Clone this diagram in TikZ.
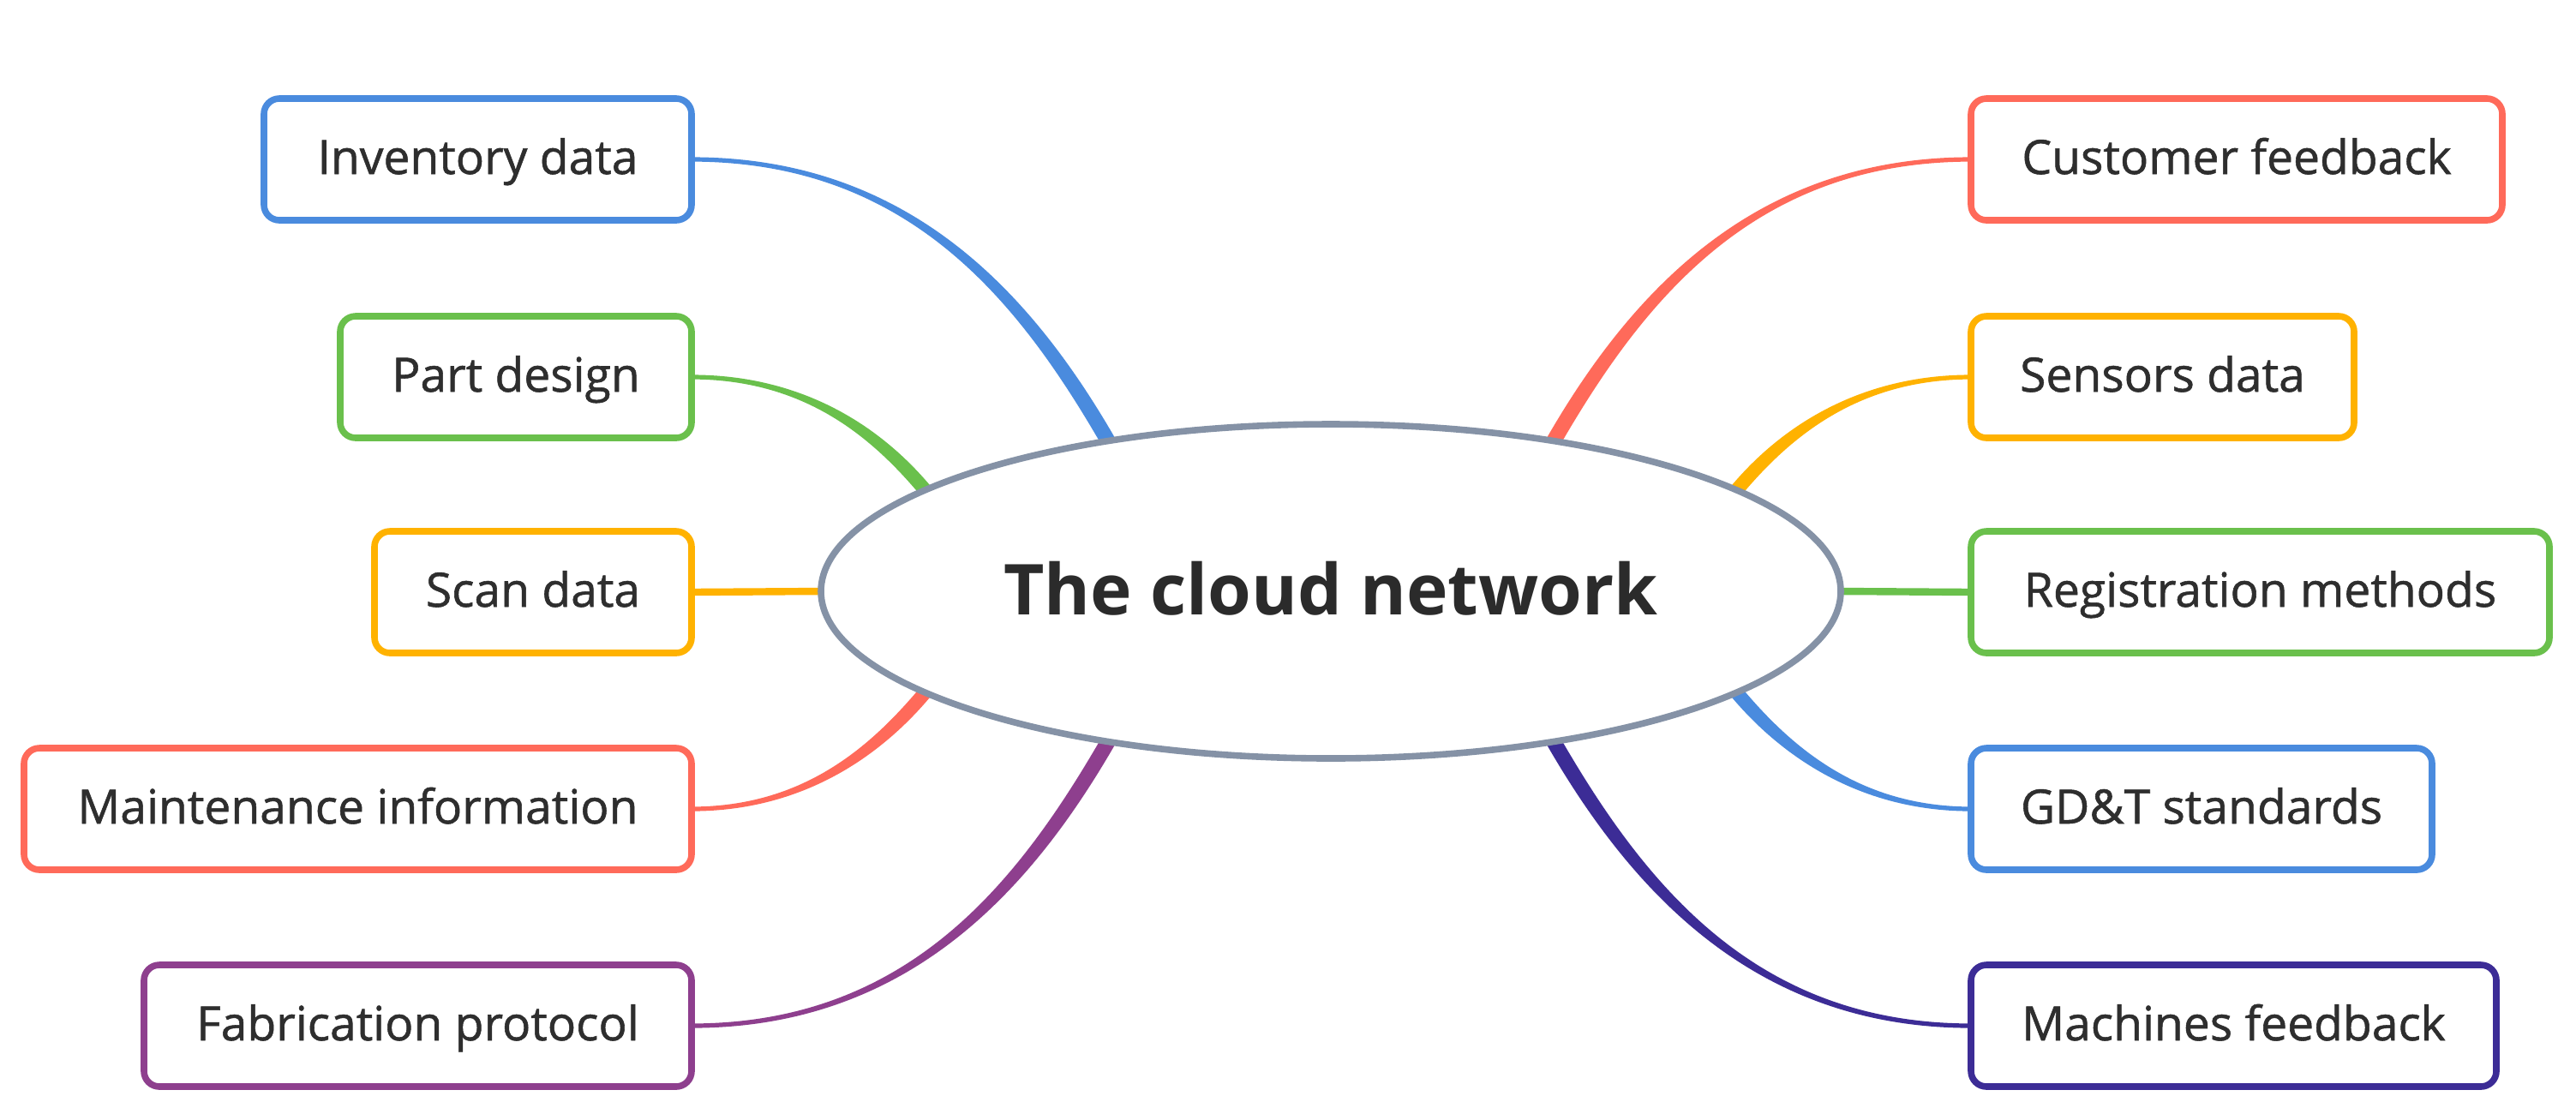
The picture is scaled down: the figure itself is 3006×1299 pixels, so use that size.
\documentclass[tikz,border=0pt]{standalone}
\usepackage{fontspec}
\setmainfont{Open Sans}
\newfontfamily\leaffont[FakeBold=1]{Open Sans}
\usetikzlibrary{calc,shapes.geometric}
\definecolor{cblue}{HTML}{4A8BDE}
\definecolor{cgreen}{HTML}{6AC04C}
\definecolor{corange}{HTML}{FFB200}
\definecolor{ccoral}{HTML}{FF6A5A}
\definecolor{cpurple}{HTML}{8E3F8E}
\definecolor{cindigo}{HTML}{3C2C96}
\definecolor{hubgray}{HTML}{8592A6}
\definecolor{textgray}{HTML}{2E2E2E}
\definecolor{titlegray}{HTML}{2B2B2B}
\pgfdeclarelayer{bg}
\pgfsetlayers{bg,main}
\newcommand{\taperlink}[7]{%
  \coordinate (tpSa) at ($(#1)!#5!90:(#2)$);
  \coordinate (tpSb) at ($(#1)!#5!-90:(#2)$);
  \coordinate (tpEa) at ($(#4)!#6!-90:(#3)$);
  \coordinate (tpEb) at ($(#4)!#6!90:(#3)$);
  \fill[#7] (tpSa) .. controls ($(#2)+(tpSa)-(#1)$) and ($(#3)+(tpEa)-(#4)$) .. (tpEa)
     -- (tpEb) .. controls ($(#3)+(tpEb)-(#4)$) and ($(#2)+(tpSb)-(#1)$) .. (tpSb) -- cycle;
}
\tikzset{
  leaf/.style={draw, line width=1.9pt, rounded corners=4.5pt, fill=white,
    minimum height=35.5pt, inner sep=0pt, outer sep=0pt,
    text height=11.5pt, text depth=3pt,
    font=\leaffont\fontsize{13.8}{16}\selectfont, text=textgray},
  leftleaf/.style={leaf, anchor=east},
  rightleaf/.style={leaf, anchor=west},
  hub/.style={ellipse, draw=hubgray, line width=1.9pt, fill=white,
    minimum width=297.5pt, minimum height=97.5pt, inner sep=0pt, outer sep=0pt,
    text height=18pt, text depth=4.5pt,
    font=\bfseries\fontsize{20.5}{24}\selectfont, text=titlegray},
  straightlink/.style={line width=2.1pt}
}
\begin{document}
\begin{tikzpicture}[x=0.25pt,y=-0.25pt]
\begin{pgfonlayer}{bg}
  \fill[white] (0,0) rectangle (3006,1299);
\end{pgfonlayer}
\useasboundingbox (0,0) rectangle (3006,1299);

\node[hub] (c) at (1553,690) {The cloud network};

\node[leftleaf, draw=cblue,   minimum width=124.75pt] (inv)  at (807,186)  {Inventory data};
\node[leftleaf, draw=cgreen,  minimum width=102.5pt]  (part) at (807,440)  {Part design};
\node[leftleaf, draw=corange, minimum width=92.5pt]   (scan) at (807,691)  {Scan data};
\node[leftleaf, draw=ccoral,  minimum width=194.75pt] (main) at (807,944)  {Maintenance information};
\node[leftleaf, draw=cpurple, minimum width=159.75pt] (fab)  at (807,1197) {Fabrication protocol};

\node[rightleaf, draw=ccoral,  minimum width=155pt]    (cust) at (2300,186)  {Customer feedback};
\node[rightleaf, draw=corange, minimum width=111.75pt] (sens) at (2300,440)  {Sensors data};
\node[rightleaf, draw=cgreen,  minimum width=168.75pt] (reg)  at (2300,691)  {Registration methods};
\node[rightleaf, draw=cblue,   minimum width=134.5pt]  (gdt)  at (2300,944)  {GD\&T standards};
\node[rightleaf, draw=cindigo, minimum width=153.25pt] (mach) at (2300,1197) {Machines feedback};

\begin{pgfonlayer}{bg}
  % left side
  \coordinate (k1) at ($(inv.east)+(250,0)$);
  \coordinate (k2) at ($(c.146)+(-100,-173)$);
  \taperlink{inv.east}{k1}{k2}{c.146}{0.65pt}{2.2pt}{cblue}
  \coordinate (k1) at ($(part.east)+(130,0)$);
  \coordinate (k2) at ($(c.166)+(-58,-69)$);
  \taperlink{part.east}{k1}{k2}{c.166}{0.65pt}{2pt}{cgreen}
  \draw[straightlink, corange] (scan.east) -- (c.west);
  \coordinate (k1) at ($(main.east)+(130,0)$);
  \coordinate (k2) at ($(c.194)+(-58,69)$);
  \taperlink{main.east}{k1}{k2}{c.194}{0.65pt}{2pt}{ccoral}
  \coordinate (k1) at ($(fab.east)+(250,0)$);
  \coordinate (k2) at ($(c.214)+(-100,173)$);
  \taperlink{fab.east}{k1}{k2}{c.214}{0.65pt}{2.2pt}{cpurple}
  % right side
  \coordinate (k1) at ($(cust.west)+(-250,0)$);
  \coordinate (k2) at ($(c.34)+(100,-173)$);
  \taperlink{cust.west}{k1}{k2}{c.34}{0.65pt}{2.2pt}{ccoral}
  \coordinate (k1) at ($(sens.west)+(-130,0)$);
  \coordinate (k2) at ($(c.14)+(58,-69)$);
  \taperlink{sens.west}{k1}{k2}{c.14}{0.65pt}{2pt}{corange}
  \draw[straightlink, cgreen] (c.east) -- (reg.west);
  \coordinate (k1) at ($(gdt.west)+(-130,0)$);
  \coordinate (k2) at ($(c.346)+(58,69)$);
  \taperlink{gdt.west}{k1}{k2}{c.346}{0.65pt}{2pt}{cblue}
  \coordinate (k1) at ($(mach.west)+(-250,0)$);
  \coordinate (k2) at ($(c.326)+(100,173)$);
  \taperlink{mach.west}{k1}{k2}{c.326}{0.65pt}{2.2pt}{cindigo}
\end{pgfonlayer}
\end{tikzpicture}
\end{document}
